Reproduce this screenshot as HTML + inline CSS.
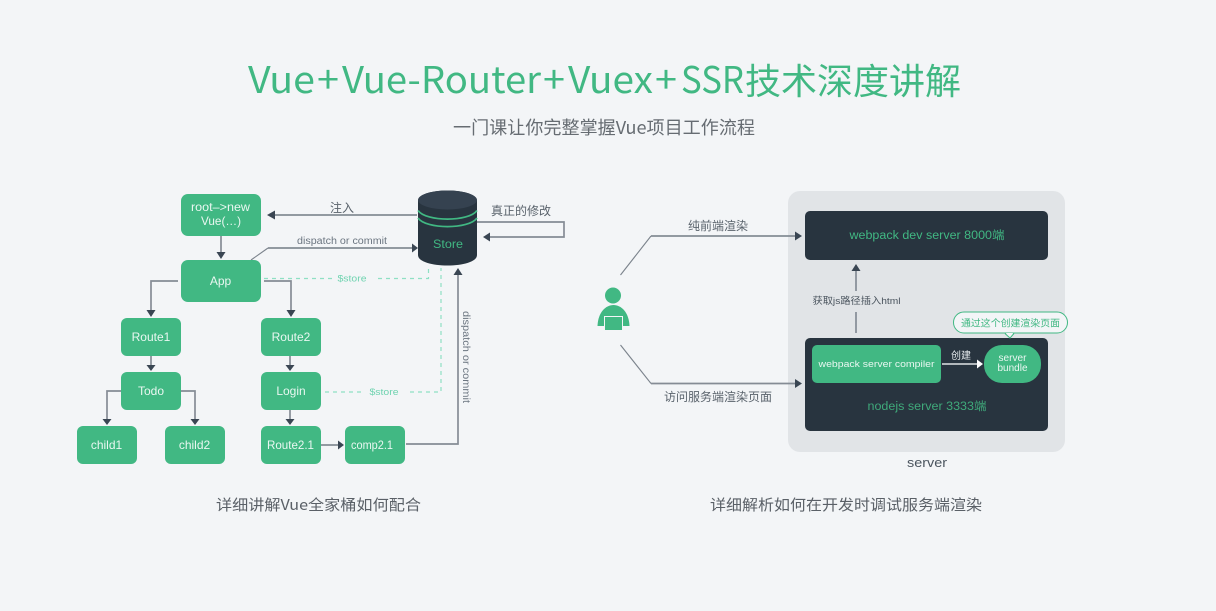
<!DOCTYPE html>
<html><head><meta charset="utf-8">
<style>
html,body{margin:0;padding:0;background:#f3f5f7;width:1216px;height:611px;overflow:hidden}
svg{display:block}
text{font-family:"Liberation Sans","Noto Sans CJK SC",sans-serif;text-anchor:middle}
.n{font-family:"Noto Sans CJK SC","Liberation Sans",sans-serif}
.s{text-anchor:start}
.w{fill:#e9f7f1;font-size:12px}
.g{fill:#6b7580;font-size:10px}
.d{fill:#5a636c;font-size:12px}
.l{fill:none;stroke:#858c95;stroke-width:1.7}
.t{fill:none;stroke:#7b838c;stroke-width:1.1}
.ds{fill:none;stroke:#8fe0c4;stroke-width:1.2;stroke-dasharray:4 4}
.a{fill:#3a4653}
.b{fill:#41b883}
.h{font-size:37px;fill:#41b883}
</style></head><body>
<svg width="1216" height="611" viewBox="0 0 1216 611" xmlns="http://www.w3.org/2000/svg">
<rect width="1216" height="611" fill="#f3f5f7"/>
<text class="n s h" x="248" y="93" textLength="67" lengthAdjust="spacingAndGlyphs">Vue</text>
<text class="n s h" x="317" y="93" textLength="22" lengthAdjust="spacingAndGlyphs">+</text>
<text class="n s h" x="342" y="93" textLength="199" lengthAdjust="spacingAndGlyphs">Vue-Router</text>
<text class="n s h" x="543" y="93" textLength="22" lengthAdjust="spacingAndGlyphs">+</text>
<text class="n s h" x="568" y="93" textLength="85" lengthAdjust="spacingAndGlyphs">Vuex</text>
<text class="n s h" x="655" y="93" textLength="22" lengthAdjust="spacingAndGlyphs">+</text>
<text class="n s h" x="681" y="93" textLength="63" lengthAdjust="spacingAndGlyphs">SSR</text>
<text class="n s" x="745" y="94" font-size="36" fill="#41b883" textLength="216" lengthAdjust="spacingAndGlyphs">技术深度讲解</text>
<text class="n" x="604" y="134" font-size="18" fill="#666c72" textLength="302" lengthAdjust="spacingAndGlyphs">一门课让你完整掌握Vue项目工作流程</text>

<!-- left connectors -->
<path class="l" d="M417 215H274"/><path class="a" d="M267 215l8-4.500v9z"/>
<path class="l" d="M221 236V252"/><path class="a" d="M216.500 252h9l-4.500 7z"/>
<path class="t" d="M251 260L268 248"/><path class="l" d="M268 248H412"/><path class="a" d="M412 243.500l6 4.500-6 4.500z"/>
<path class="l" d="M178 281H151V310"/><path class="a" d="M146.500 310h9l-4.500 7z"/>
<path class="l" d="M264 281H291V310"/><path class="a" d="M286.500 310h9l-4.500 7z"/>
<path class="l" d="M151 356V365"/><path class="a" d="M146.500 365h9l-4.500 6z"/>
<path class="l" d="M290 356V365"/><path class="a" d="M285.500 365h9l-4.500 6z"/>
<path class="l" d="M121 391H107V419"/><path class="a" d="M102.500 419h9l-4.500 6z"/>
<path class="l" d="M181 391H195V419"/><path class="a" d="M190.500 419h9l-4.500 6z"/>
<path class="l" d="M290 410V419"/><path class="a" d="M285.500 419h9l-4.500 6z"/>
<path class="l" d="M321 445H338"/><path class="a" d="M338 440.500l6 4.500-6 4.500z"/>
<path class="l" d="M406 444H458V275"/><path class="a" d="M453.500 275l4.500-7 4.500 7z"/>
<path class="l" d="M477 222H564V237H490"/><path class="a" d="M490 232.500l-7 4.500 7 4.500z"/>

<!-- dashed -->
<path class="ds" d="M264 278.500H333M378 278.500H428.500V268"/>
<path class="ds" d="M325 392H362M410 392H441V268"/>
<text x="352" y="281.500" font-size="9.500" fill="#6fd3b0" textLength="29" lengthAdjust="spacingAndGlyphs">$store</text>
<text x="384" y="395" font-size="9.500" fill="#6fd3b0" textLength="29" lengthAdjust="spacingAndGlyphs">$store</text>

<!-- left boxes -->
<rect class="b" x="181" y="194" width="80" height="42" rx="7"/>
<text class="w" x="220.500" y="211" textLength="59" lengthAdjust="spacingAndGlyphs">root–&gt;new</text>
<text class="w" x="221" y="225" textLength="40" lengthAdjust="spacingAndGlyphs">Vue(…)</text>
<rect class="b" x="181" y="260" width="80" height="42" rx="7"/><text class="w" x="220.500" y="285">App</text>
<rect class="b" x="121" y="318" width="60" height="38" rx="6"/><text class="w" x="151" y="341">Route1</text>
<rect class="b" x="261" y="318" width="60" height="38" rx="6"/><text class="w" x="291" y="341">Route2</text>
<rect class="b" x="121" y="372" width="60" height="38" rx="6"/><text class="w" x="151" y="395">Todo</text>
<rect class="b" x="261" y="372" width="60" height="38" rx="6"/><text class="w" x="291" y="395">Login</text>
<rect class="b" x="77" y="426" width="60" height="38" rx="6"/><text class="w" x="106.500" y="449">child1</text>
<rect class="b" x="165" y="426" width="60" height="38" rx="6"/><text class="w" x="194.500" y="449">child2</text>
<rect class="b" x="261" y="426" width="60" height="38" rx="6"/><text class="w" x="290.500" y="449" textLength="47" lengthAdjust="spacingAndGlyphs">Route2.1</text>
<rect class="b" x="345" y="426" width="60" height="38" rx="6"/><text class="w" x="372" y="449" textLength="42" lengthAdjust="spacingAndGlyphs">comp2.1</text>

<!-- store -->
<path d="M418 201C418 187 477 187 477 201V255C477 269 418 269 418 255Z" fill="#28343f"/>
<ellipse cx="447.500" cy="200" rx="29.500" ry="9.500" fill="#354250"/>
<path d="M418 210.500C426 222 469 222 477 210.500" fill="none" stroke="#41b883" stroke-width="1.700"/>
<path d="M418 218C426 229.500 469 229.500 477 218" fill="none" stroke="#41b883" stroke-width="1.700"/>
<text x="448" y="248" font-size="12" fill="#41b883" textLength="30" lengthAdjust="spacingAndGlyphs">Store</text>

<text class="d n" x="342" y="212" font-size="11">注入</text>
<text class="g" x="342" y="244" textLength="90" lengthAdjust="spacingAndGlyphs">dispatch or commit</text>
<text class="d n" x="521" y="215">真正的修改</text>
<text class="g" transform="translate(463,357) rotate(90)" textLength="92" lengthAdjust="spacingAndGlyphs">dispatch or commit</text>

<text class="n" x="318.500" y="510" font-size="15" fill="#5a6067" textLength="205" lengthAdjust="spacingAndGlyphs">详细讲解Vue全家桶如何配合</text>
<text class="n" x="846" y="510" font-size="15" fill="#5a6067" textLength="272" lengthAdjust="spacingAndGlyphs">详细解析如何在开发时调试服务端渲染</text>

<!-- person -->
<circle cx="613" cy="295.500" r="8" class="b"/>
<path class="b" d="M597.500 326C598 312 606 305 613.500 305C621 305 629 312 629.500 326Z"/>
<rect x="604.500" y="316.500" width="18" height="14" fill="#41b883" stroke="#f3f5f7" stroke-width="1"/>

<!-- server -->
<rect x="788" y="191" width="277" height="261" rx="12" fill="#e1e4e7"/>
<path class="t" d="M620.500 275L651 236"/><path class="l" d="M651 236H795"/><path class="a" d="M795 231.500l7 4.500-7 4.500z"/>
<path class="t" d="M620.500 345L651 383.500"/><path class="l" d="M651 383.500H795"/><path class="a" d="M795 379l7 4.500-7 4.500z"/>
<text class="d n" x="718" y="230">纯前端渲染</text>
<text class="d n" x="718" y="401">访问服务端渲染页面</text>
<rect x="805" y="211" width="243" height="49" rx="5" fill="#28343f"/>
<text x="927" y="239" font-size="11.500" fill="#41b883" textLength="155" lengthAdjust="spacingAndGlyphs">webpack dev server 8000端</text>
<rect x="805" y="338" width="243" height="93" rx="5" fill="#28343f"/>
<rect class="b" x="812" y="345" width="129" height="38" rx="5"/>
<text x="876.500" y="367" font-size="9.500" fill="#e9f7f1" textLength="116" lengthAdjust="spacingAndGlyphs">webpack server compiler</text>
<rect class="b" x="984" y="345" width="57" height="38" rx="18"/>
<text x="1012.500" y="361" font-size="10" fill="#e9f7f1" textLength="28" lengthAdjust="spacingAndGlyphs">server</text>
<text x="1012.500" y="371" font-size="10" fill="#e9f7f1" textLength="30" lengthAdjust="spacingAndGlyphs">bundle</text>
<path d="M942 364H977" stroke="#dfe3e6" stroke-width="1.500" fill="none"/><path d="M977 359.500l6 4.500-6 4.500z" fill="#fff"/>
<text x="961" y="359" font-size="10" fill="#e9eef0">创建</text>
<text x="927" y="410" font-size="11.500" fill="#3fa97a" textLength="119" lengthAdjust="spacingAndGlyphs">nodejs server 3333端</text>
<path d="M856 333V312" stroke="#858c95" stroke-width="1.700"/>
<path d="M856 291V271" stroke="#858c95" stroke-width="1.700"/><path class="a" d="M851.500 271l4.500-7 4.500 7z"/>
<text x="856.500" y="304" font-size="9.500" fill="#4a545e" textLength="88" lengthAdjust="spacingAndGlyphs">获取js路径插入html</text>
<text x="927" y="467" font-size="13" fill="#4a545e" textLength="40" lengthAdjust="spacingAndGlyphs">server</text>

<!-- bubble -->
<path d="M1005 333.500L1010 338L1014 333.500" fill="#f3f5f7" stroke="#41b883"/>
<rect x="953.500" y="312" width="114" height="21" rx="10.500" fill="#f3f5f7" stroke="#41b883"/>
<path d="M1006 333h7l-3 4z" fill="#f3f5f7"/>
<text x="1010.500" y="326.500" font-size="9.800" fill="#41b883" textLength="99" lengthAdjust="spacingAndGlyphs">通过这个创建渲染页面</text>
</svg>
</body></html>
